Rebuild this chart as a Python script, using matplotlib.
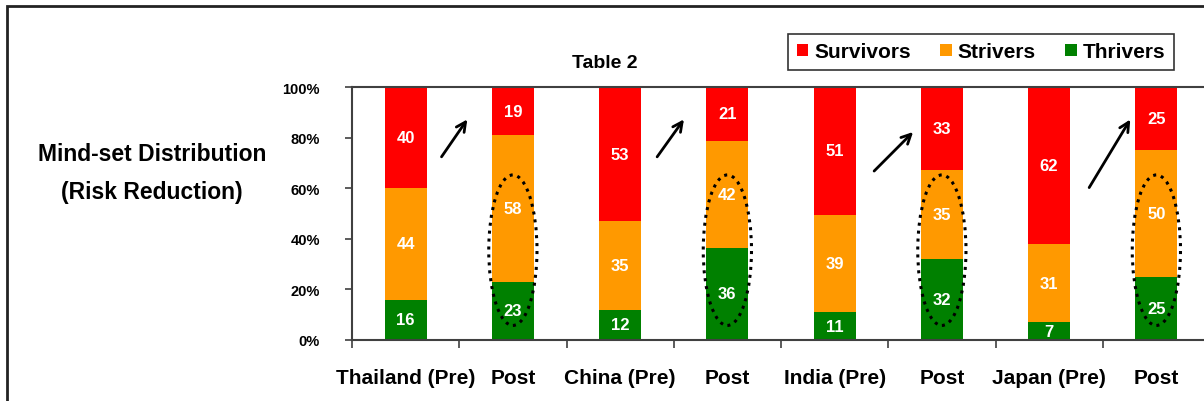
import matplotlib
matplotlib.use('Agg')
import matplotlib.pyplot as plt
from matplotlib.patches import Ellipse, Rectangle
import numpy as np

plt.rcParams['font.family'] = ['Liberation Sans', 'DejaVu Sans']

categories = ['Thailand (Pre)', 'Post', 'China (Pre)', 'Post',
              'India (Pre)', 'Post', 'Japan (Pre)', 'Post']
thrivers = [16, 23, 12, 36, 11, 32, 7, 25]
strivers = [44, 58, 35, 42, 39, 35, 31, 50]
survivors = [40, 19, 53, 21, 51, 33, 62, 25]
yticks = [0, 20, 40, 60, 80, 100]

colors = {'Survivors': '#FF0000', 'Strivers': '#FF9900', 'Thrivers': '#008000'}

# 100% stacked: each column scaled to its own total
vals = np.array([thrivers, strivers, survivors], dtype=float)
pct = vals / vals.sum(axis=0) * 100
x = np.arange(len(categories))

fig = plt.figure(figsize=(12.04, 4.02), dpi=100)
ax = fig.add_axes([352 / 1204, 61 / 402, 858 / 1204, 253 / 402])

bottom = np.zeros(len(categories))
names = ['Thrivers', 'Strivers', 'Survivors']
handles = {}
for name, row, raw in zip(names, pct, vals):
    bars = ax.bar(x, row, width=0.39, bottom=bottom, color=colors[name],
                  label=name, zorder=2)
    handles[name] = bars
    for xi, b, h, v in zip(x, bottom, row, raw):
        ax.text(xi, b + h / 2, f'{int(v)}', ha='center', va='center',
                color='white', fontsize=12, fontweight='bold', zorder=4)
    bottom += row

ax.set_xlim(-0.5, len(categories) - 0.5)
ax.set_ylim(0, 100)
ax.set_yticks(yticks)
ax.set_yticklabels([f'{t}%' for t in yticks], fontsize=10.5, fontweight='bold')
ax.set_xticks(x)
ax.set_xticklabels(categories, fontsize=15, fontweight='bold')
ax.tick_params(axis='x', length=0, pad=20)
ax.set_xticks(np.arange(len(categories)) - 0.5, minor=True)
ax.tick_params(axis='x', which='minor', length=6, width=1.2, color='#404040')
ax.tick_params(axis='y', length=5, width=1.2, color='#404040', pad=18)
for s in ax.spines.values():
    s.set_color('#404040')
    s.set_linewidth(1.5)

# dotted ellipses around the post-survey thrivers/strivers
for xi in x[1::2]:
    ax.add_patch(Ellipse((xi, 35.5), 0.45, 59.5, fill=False, edgecolor='black',
                         linestyle=(0, (1, 1.6)), linewidth=2.2, zorder=5))

# arrows pointing up towards the post columns
arrow_tails = [(-0.68, 71.5), (-0.67, 71.5), (-0.65, 66.0), (-0.64, 59.3)]
arrow_heads = [(-0.41, 88.1), (-0.39, 88.1), (-0.25, 83.0), (-0.23, 88.1)]
for xi, (tx, ty), (hx, hy) in zip(x[1::2], arrow_tails, arrow_heads):
    ax.annotate('', xy=(xi + hx, hy), xytext=(xi + tx, ty),
                arrowprops=dict(arrowstyle='->', color='black', lw=2.0,
                                mutation_scale=17), zorder=5)

leg = fig.legend([handles[n] for n in ['Survivors', 'Strivers', 'Thrivers']],
                 ['Survivors', 'Strivers', 'Thrivers'], ncol=3,
                 loc='center', bbox_to_anchor=(981 / 1204, 1 - 53 / 402),
                 frameon=True, fancybox=False, edgecolor='black',
                 handlelength=0.55, handleheight=0.55, handletextpad=0.3,
                 columnspacing=1.4, borderpad=0.4,
                 prop={'size': 15, 'weight': 'bold'})
leg.get_frame().set_linewidth(1.2)

fig.text(605 / 1204, 1 - 63 / 402, 'Table 2', ha='center', va='center',
         fontsize=14, fontweight='bold')
fig.text(152 / 1204, 1 - 155 / 402, 'Mind-set Distribution', ha='center',
         va='center', fontsize=16.5, fontweight='bold')
fig.text(152 / 1204, 1 - 193 / 402, '(Risk Reduction)', ha='center',
         va='center', fontsize=16.5, fontweight='bold')

# outer frame of the chart area
fig.patches.append(Rectangle((7 / 1204, -0.05), 1.1, 1 - 7 / 402 + 0.05,
                             transform=fig.transFigure, fill=False,
                             edgecolor='#222222', linewidth=2))

fig.savefig('out.png', dpi=100)
